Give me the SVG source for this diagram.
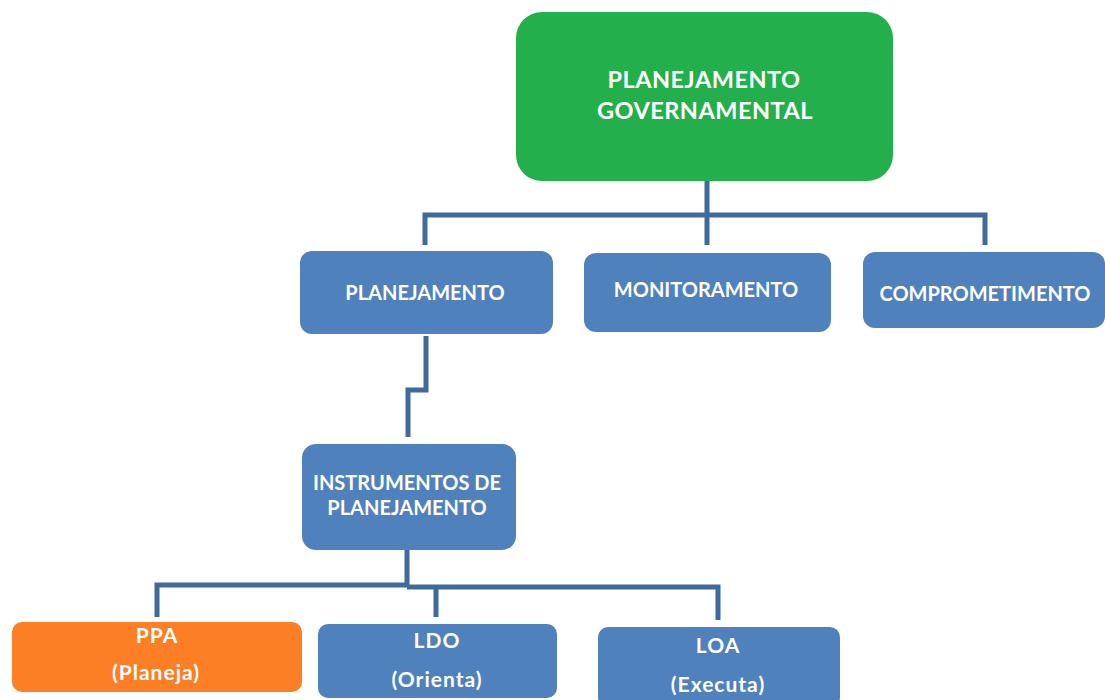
<svg xmlns="http://www.w3.org/2000/svg" width="1105" height="700" viewBox="0 0 1105 700">
<style>
.blue{fill:#4F81BD}
.t{font-family:Lato,"Open Sans","Liberation Sans",sans-serif;font-weight:bold;fill:#FFFFFF;text-anchor:middle}
.m{font-size:20px}
.b{font-size:21px;letter-spacing:1px}
.big{font-size:23.5px;letter-spacing:0.5px}
.c{fill:none;stroke:#3F6A9E;stroke-width:5}
</style>
<rect width="1105" height="700" fill="#FFFFFF"/>
<g id="connectors">
<path class="c" d="M707 181V245M425 245V215H985V245"/>
<path class="c" d="M426 336V390H408V437"/>
<path class="c" d="M407 550V586M157 617V585H407M407 587H718V620M436 587V617"/>
</g>
<g id="n-gov">
<rect x="516" y="12" width="377" height="169" rx="26" fill="#23B04C"/>
<text class="t big" x="704" y="88">PLANEJAMENTO</text>
<text class="t big" x="705" y="119">GOVERNAMENTAL</text>
</g>
<g id="n-plan">
<rect class="blue" x="300" y="251" width="253" height="83" rx="12"/>
<text class="t m" x="425" y="300">PLANEJAMENTO</text>
</g>
<g id="n-mon">
<rect class="blue" x="584" y="253" width="247" height="79" rx="12"/>
<text class="t m" x="706" y="297">MONITORAMENTO</text>
</g>
<g id="n-comp">
<rect class="blue" x="863" y="252" width="242" height="76" rx="12"/>
<text class="t m" x="985" y="301">COMPROMETIMENTO</text>
</g>
<g id="n-inst">
<rect class="blue" x="302" y="444" width="214" height="106" rx="14"/>
<text class="t m" x="407" y="490">INSTRUMENTOS DE</text>
<text class="t m" x="407" y="515">PLANEJAMENTO</text>
</g>
<g id="n-ppa">
<rect x="12" y="622" width="290" height="70" rx="10" fill="#FD7F25"/>
<text class="t b" x="157" y="643">PPA</text>
<text class="t b" x="156" y="680">(Planeja)</text>
</g>
<g id="n-ldo">
<rect class="blue" x="318" y="624" width="239" height="74" rx="10"/>
<text class="t b" x="437" y="648">LDO</text>
<text class="t b" x="437" y="687">(Orienta)</text>
</g>
<g id="n-loa">
<rect class="blue" x="598" y="627" width="242" height="80" rx="10"/>
<text class="t b" x="718" y="653">LOA</text>
<text class="t b" x="718" y="692">(Executa)</text>
</g>
</svg>
